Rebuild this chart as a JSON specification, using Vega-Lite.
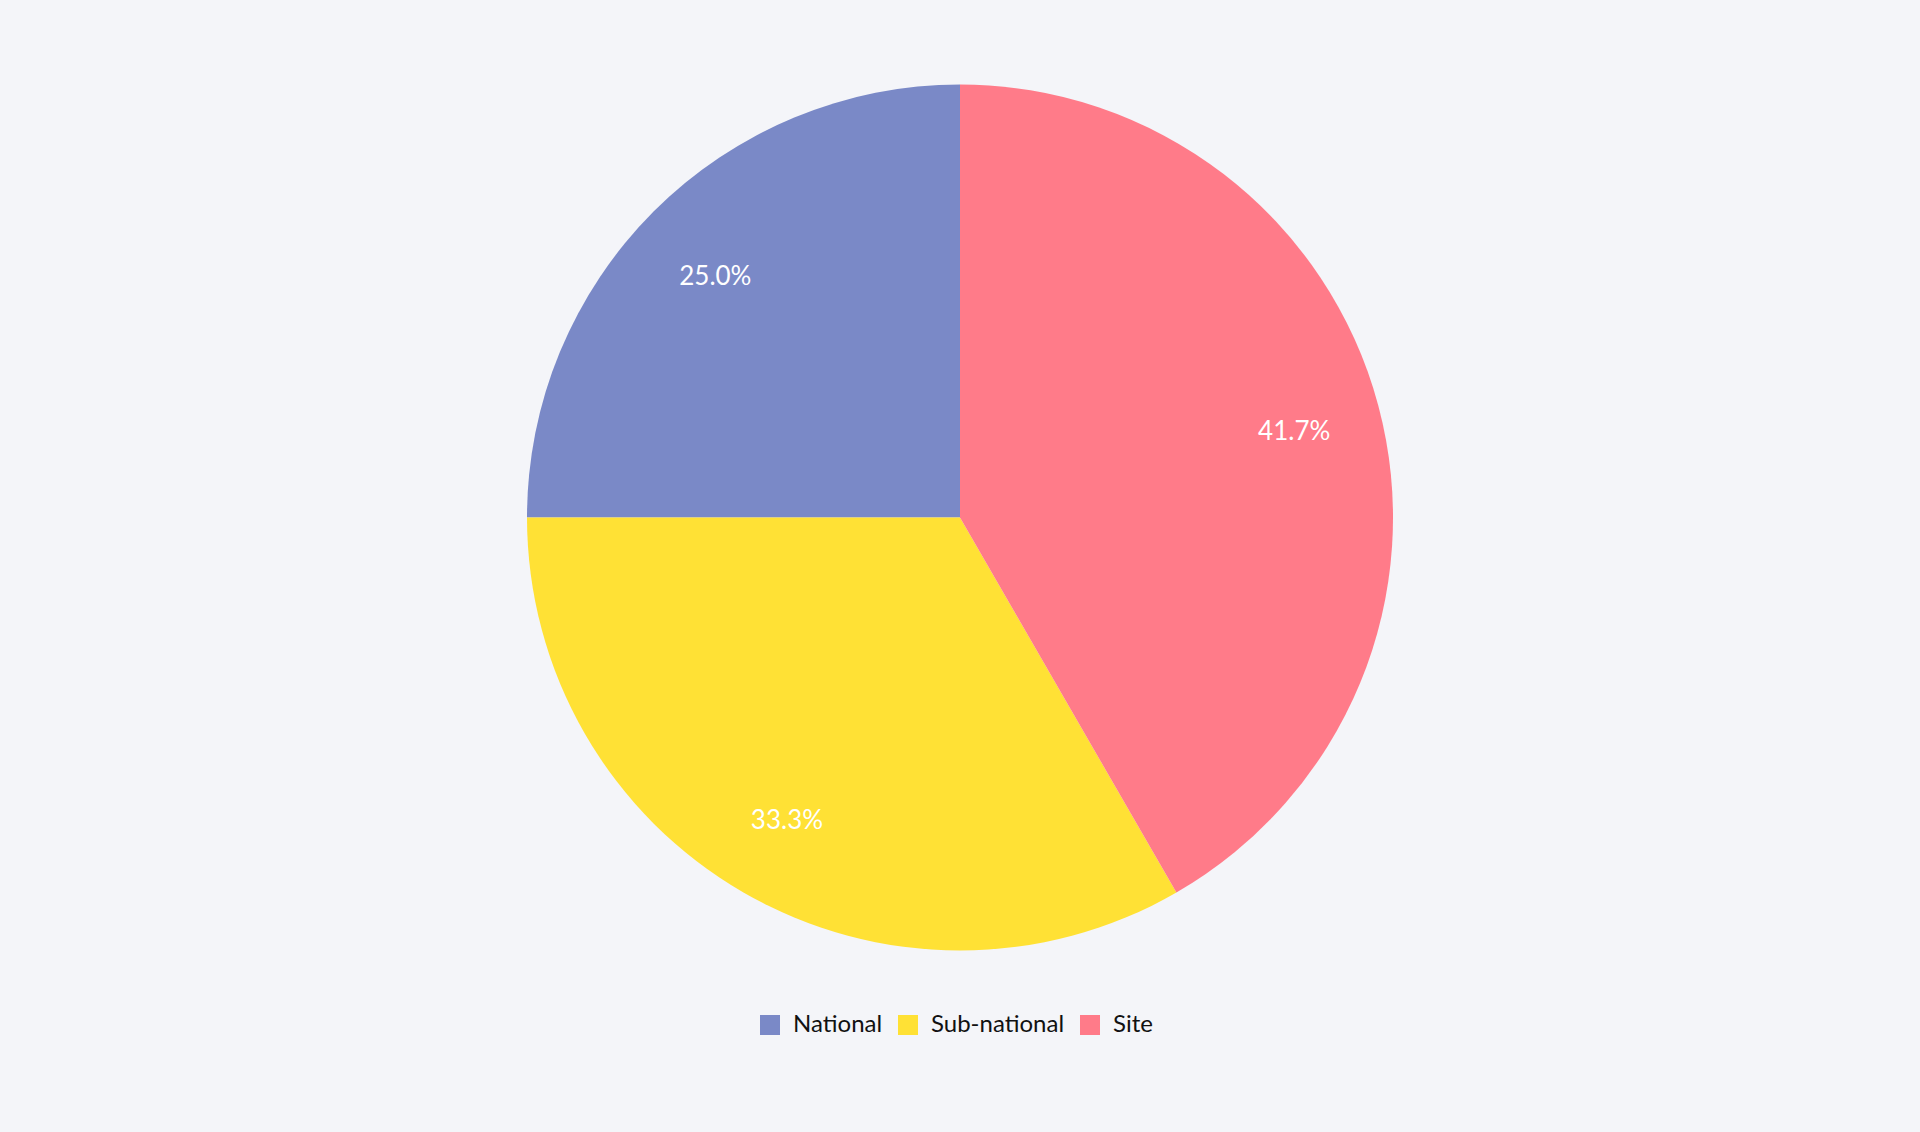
{
  "$schema": "https://vega.github.io/schema/vega-lite/v6.json",
  "width": 1920,
  "height": 1035,
  "autosize": {"type": "none"},
  "padding": {"left": 0, "top": 0, "right": 0, "bottom": 97},
  "background": "#F4F5F9",
  "config": {"view": {"stroke": null}, "font": "Lato"},
  "data": {"values": [
    {"category": "National", "share": 0.25},
    {"category": "Sub-national", "share": 0.3333},
    {"category": "Site", "share": 0.4167}
  ]},
  "encoding": {
    "theta": {"field": "share", "type": "quantitative", "stack": true},
    "order": {"field": "share", "type": "quantitative", "sort": "descending"},
    "color": {
      "field": "category", "type": "nominal",
      "scale": {"domain": ["National", "Sub-national", "Site"], "range": ["#7A89C7", "#FFE135", "#FF7B89"]},
      "legend": {
        "title": null, "orient": "none", "direction": "horizontal",
        "legendX": 758, "legendY": 1013,
        "symbolType": "square", "symbolSize": 400, "symbolStrokeWidth": 0,
        "labelFontSize": 24, "labelColor": "#111111", "labelOffset": 11,
        "columnPadding": 13, "labelFont": "Lato"
      }
    }
  },
  "layer": [
    {"mark": {"type": "arc", "outerRadius": 433}},
    {
      "mark": {"type": "text", "radius": 346, "fontSize": 26, "dy": 4, "color": "#ffffff", "font": "Lato"},
      "encoding": {"text": {"field": "share", "type": "quantitative", "format": ".1%"}, "color": {"value": "#ffffff"}}
    }
  ]
}
